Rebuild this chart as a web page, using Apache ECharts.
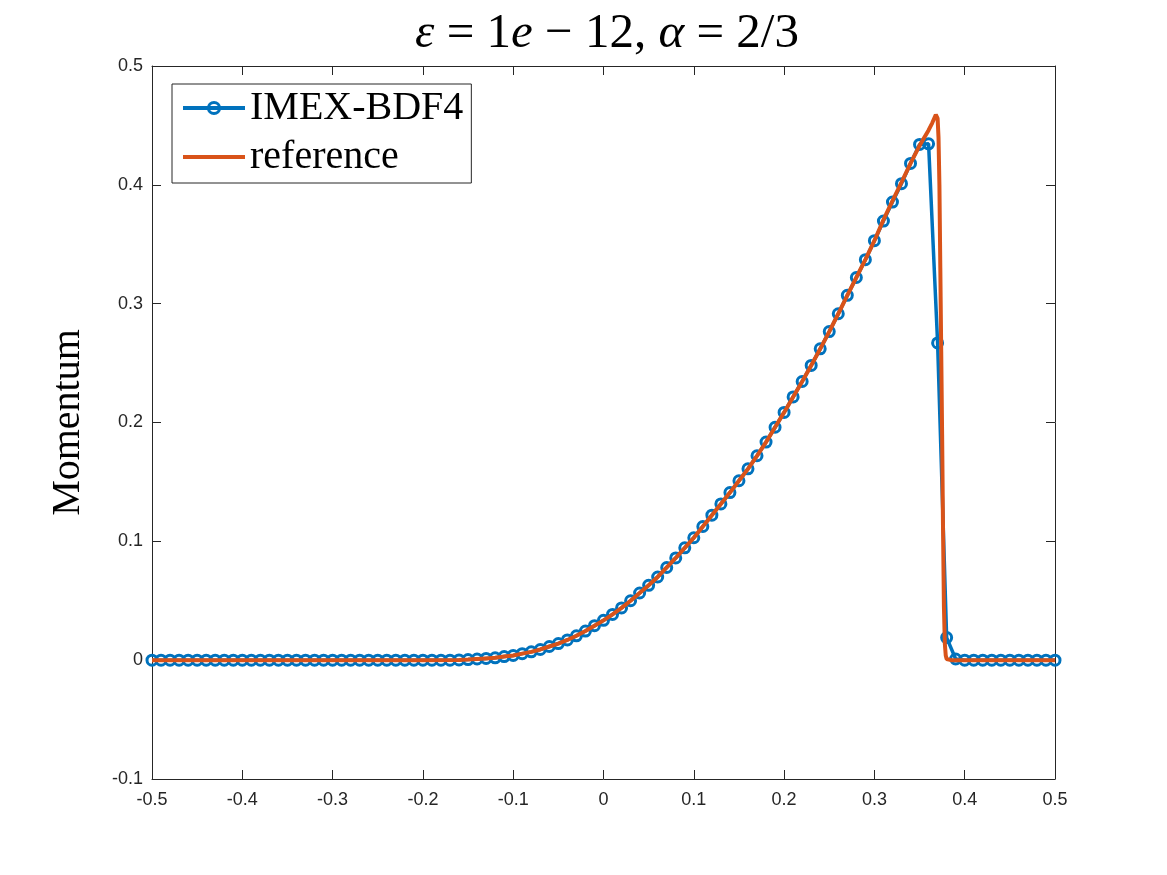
<!DOCTYPE html>
<html>
<head>
<meta charset="utf-8">
<script src="https://cdn.jsdelivr.net/npm/echarts@6/dist/echarts.min.js"></script>
<style>html,body{margin:0;padding:0;background:#fff;}#c{width:1167px;height:875px;}</style>
</head>
<body>
<div id="c"></div>
<script>
// IMEX-BDF4 grid and values
const bdfX = [-0.50,-0.49,-0.48,-0.47,-0.46,-0.45,-0.44,-0.43,-0.42,-0.41,
  -0.40,-0.39,-0.38,-0.37,-0.36,-0.35,-0.34,-0.33,-0.32,-0.31,
  -0.30,-0.29,-0.28,-0.27,-0.26,-0.25,-0.24,-0.23,-0.22,-0.21,
  -0.20,-0.19,-0.18,-0.17,-0.16,-0.15,-0.14,-0.13,-0.12,-0.11,
  -0.10,-0.09,-0.08,-0.07,-0.06,-0.05,-0.04,-0.03,-0.02,-0.01,
  0.00,0.01,0.02,0.03,0.04,0.05,0.06,0.07,0.08,0.09,
  0.10,0.11,0.12,0.13,0.14,0.15,0.16,0.17,0.18,0.19,
  0.20,0.21,0.22,0.23,0.24,0.25,0.26,0.27,0.28,0.29,
  0.30,0.31,0.32,0.33,0.34,0.35,0.36,0.37,0.38,0.39,
  0.40,0.41,0.42,0.43,0.44,0.45,0.46,0.47,0.48,0.49,0.50];
const bdfY = [0,0,0,0,0,0,0,0,0,0,
  0,0,0,0,0,0,0,0,0,0,
  0,0,0,0,0,0,0,0,0,0,
  0,0,0,0,0.0002,0.0005,0.001,0.0015,0.002,0.003,
  0.004,0.0055,0.007,0.009,0.0115,0.014,0.017,0.0205,0.0245,0.029,
  0.0335,0.0385,0.044,0.050,0.0565,0.063,0.070,0.078,0.086,0.0945,
  0.103,0.1125,0.122,0.1315,0.141,0.151,0.161,0.172,0.1835,0.196,
  0.2085,0.2215,0.2345,0.248,0.262,0.2765,0.2915,0.307,0.322,0.337,
  0.353,0.3695,0.3855,0.401,0.418,0.434,0.4345,0.267,0.019,0.001,
  0,0,0,0,0,0,0,0,0,0,0];

// reference solution samples
const refX = [-0.50,-0.40,-0.30,-0.20,-0.16,-0.15,-0.14,-0.13,-0.12,-0.11,
  -0.10,-0.09,-0.08,-0.07,-0.06,-0.05,-0.04,-0.03,-0.02,-0.01,
  0.00,0.01,0.02,0.03,0.04,0.05,0.06,0.07,0.08,0.09,
  0.10,0.11,0.12,0.13,0.14,0.15,0.16,0.17,0.18,0.19,
  0.20,0.21,0.22,0.23,0.24,0.25,0.26,0.27,0.28,0.29,
  0.30,0.31,0.32,0.33,0.34,0.35,0.36,0.364,0.368,0.370,
  0.371,0.372,0.373,0.374,0.375,0.376,0.377,0.378,0.379,0.380,
  0.385,0.39,0.40,0.50];
const refY = [0,0,0,0,0.0002,0.0005,0.001,0.0015,0.002,0.003,
  0.004,0.0055,0.007,0.009,0.0115,0.014,0.017,0.0205,0.0245,0.029,
  0.0335,0.0385,0.044,0.050,0.0565,0.063,0.070,0.078,0.086,0.0945,
  0.103,0.1125,0.122,0.1315,0.141,0.151,0.161,0.172,0.1835,0.196,
  0.2085,0.2215,0.2345,0.248,0.262,0.2765,0.2915,0.307,0.322,0.337,
  0.353,0.3705,0.3865,0.402,0.418,0.433,0.446,0.452,0.459,0.456,
  0.44,0.40,0.33,0.26,0.19,0.11,0.045,0.014,0.004,0.001,
  0,0,0,0];

const seriesNames = ['IMEX-BDF4', 'reference'];
const titleParts = ['ε', ' = 1', 'e', ' − 12, ', 'α', ' = 2/3'];
const yName = 'Momentum';

const AX = '#262626';
const BLUE = '#0072BD', ORANGE = '#D95319';
const serif = '"Liberation Serif", "DejaVu Serif", serif';
const sans = '"Liberation Sans", Arial, sans-serif';

function pairs(xs, ys) { return xs.map((x, i) => [x, ys[i]]); }

const chart = echarts.init(document.getElementById('c'), null, {renderer: 'canvas'});

const axisCommon = {
  type: 'value',
  axisLine: {show: true, onZero: false, lineStyle: {color: AX, width: 1}},
  axisTick: {show: true, inside: true, length: 9, lineStyle: {color: AX, width: 1}},
  splitLine: {show: false}
};

const TS = 49;
const titleRich = {
  it: {fontFamily: serif, fontStyle: 'italic', fontSize: TS, color: '#000'},
  rm: {fontFamily: serif, fontSize: TS, color: '#000'}
};
const titleText = titleParts.map((t, i) => (i % 2 === 0 ? '{it|' : '{rm|') + t + '}').join('');

chart.setOption({
  animation: false,
  backgroundColor: '#fff',
  title: {
    text: titleText,
    left: 602, top: 5, textAlign: 'center',
    textStyle: {rich: titleRich, fontSize: TS, fontFamily: serif, fontWeight: 'normal'}
  },
  legend: {
    orient: 'vertical',
    left: 172, top: 84,
    padding: [4, 8, 6, 9],
    itemGap: 9,
    itemWidth: 62, itemHeight: 14,
    borderColor: AX, borderWidth: 1,
    backgroundColor: '#fff',
    textStyle: {fontFamily: serif, fontSize: 40, color: '#000', lineHeight: 40},
    data: [
      {name: seriesNames[0], lineStyle: {width: 4, color: BLUE},
       itemStyle: {color: 'rgba(255,255,255,0)', borderColor: BLUE, borderWidth: 3}},
      {name: seriesNames[1], lineStyle: {width: 4, color: ORANGE},
       itemStyle: {opacity: 0, color: 'rgba(255,255,255,0)', borderWidth: 0}}
    ]
  },
  grid: {left: 152, right: 112, top: 66, bottom: 96, containLabel: false},
  xAxis: [
    Object.assign({}, axisCommon, {
      position: 'bottom', min: -0.5, max: 0.5, interval: 0.1,
      axisLabel: {color: AX, fontFamily: sans, fontSize: 18, margin: 12}
    }),
    Object.assign({}, axisCommon, {
      position: 'top', min: -0.5, max: 0.5, interval: 0.1,
      axisLabel: {show: false}
    })
  ],
  yAxis: [
    Object.assign({}, axisCommon, {
      position: 'left', min: -0.1, max: 0.5, interval: 0.1,
      axisLabel: {color: AX, fontFamily: sans, fontSize: 18, margin: 9},
      name: yName, nameLocation: 'middle', nameGap: 64,
      nameTextStyle: {fontFamily: serif, fontSize: 40, color: '#000'}
    }),
    Object.assign({}, axisCommon, {
      position: 'right', min: -0.1, max: 0.5, interval: 0.1,
      axisLabel: {show: false}
    })
  ],
  series: [
    {
      name: seriesNames[0], type: 'line',
      data: pairs(bdfX, bdfY),
      symbol: 'circle', symbolSize: 10, showAllSymbol: true,
      lineStyle: {color: BLUE, width: 3.5},
      itemStyle: {color: 'rgba(255,255,255,0)', borderColor: BLUE, borderWidth: 3},
      z: 2
    },
    {
      name: seriesNames[1], type: 'line',
      data: pairs(refX, refY),
      symbol: 'none',
      lineStyle: {color: ORANGE, width: 4},
      itemStyle: {color: ORANGE},
      z: 3
    }
  ]
});
</script>
</body>
</html>
